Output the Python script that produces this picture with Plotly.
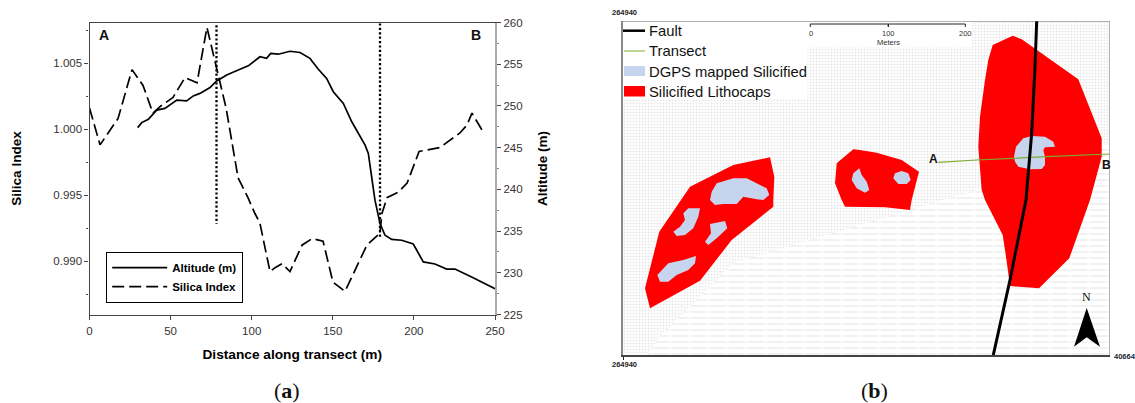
import plotly.graph_objects as go

W, H = 1135, 403

# ---------- Panel (a): transect profiles ----------
silica_dist = [0, 6.5, 17.6, 26.2, 33, 39.1, 43.5, 51.5, 58.9, 66.3, 72.4, 78.6, 84.2, 91.6, 97.7, 102, 105,
               111.3, 114.4, 118.7, 123.6, 131, 137.2, 144, 150.1, 157.5, 171, 179, 180.3, 183.4, 190.2, 195.8,
               203.2, 216, 228.4, 232.7, 235.8, 242.6]
silica_index = [1.0016, 0.9988, 1.0008, 1.0045, 1.0033, 1.0012, 1.0017, 1.0024, 1.0039, 1.0035, 1.0077, 1.0046,
                1.0016, 0.9963, 0.9948, 0.9936, 0.9929, 0.9892, 0.9895, 0.9898, 0.9892, 0.9912, 0.9917, 0.9915,
                0.9884, 0.9877, 0.9912, 0.9921, 0.9936, 0.9948, 0.9952, 0.9959, 0.9983, 0.9986, 0.9997, 1.0003,
                1.0012, 0.9998]
altitude_dist = [29.7, 32.2, 36.3, 41.4, 46.5, 53.8, 59.9, 64, 68.1, 74.3, 78.4, 84.6, 91.7, 97.9, 105.1, 109.2,
                 111.7, 116.4, 123.6, 129.8, 135.9, 141.1, 146.2, 150.3, 156.5, 161.7, 169.9, 171.9, 176, 179.1,
                 182.2, 186.3, 192.5, 199.6, 205.8, 213, 220.2, 225.3, 235.6, 242.8, 250]
altitude_m = [247.4, 248.0, 248.4, 249.5, 249.7, 250.7, 250.6, 251.2, 251.5, 252.2, 253, 253.7, 254.3, 254.8,
              255.9, 255.7, 256.3, 256.2, 256.55, 256.4, 255.7, 254.4, 253.3, 251.7, 250.3, 248.1, 245.3, 244.3,
              238.7, 235.9, 234.5, 234, 233.9, 233.45, 231.3, 231.05, 230.45, 230.45, 229.5, 228.8, 228.1]
boundary_a_x = [78.3, 78.3]
boundary_a_y = [1.0082, 0.9928]
boundary_b_x = [179.1, 179.1]
boundary_b_y = [1.0080, 0.9918]
dist_ticks = [0, 50, 100, 150, 200, 250]
si_ticks = [0.990, 0.995, 1.000, 1.005]
si_tick_labels = ["0.990", "0.995", "1.000", "1.005"]
alt_ticks = [225, 230, 235, 240, 245, 250, 255, 260]

# ---------- Panel (b): map, in map units from the lower-left corner ----------
map_width, map_height = 487, 334
stipple_x = [0, 487, 487, 349, 349, 184.5, 184.5, 0]
stipple_y = [0, 0, 334, 334, 308, 308, 256, 256]
hatch_x = [23.7, 40, 77, 110, 177, 237, 287, 330, 354, 487, 487]
hatch_y = [0, 22, 58, 92, 112, 130, 145, 158, 165, 212, 0]
lithocap_east_x = [369.7, 389.7, 398.7, 413.7, 455.3, 478.7, 478.7, 467, 446.3, 416, 387, 383, 379.7, 362, 358.7, 355.3, 357, 362, 365.3]
lithocap_east_y = [310, 319.3, 315.7, 305, 275.7, 216.7, 198.3, 155, 96.7, 66.7, 69, 98.3, 120, 155, 165, 208.3, 238.3, 275, 295]
lithocap_mid_x = [213.7, 230.3, 237, 253.7, 278.7, 296, 288.7, 287, 262, 222, 218.7, 212]
lithocap_mid_y = [191.7, 205.7, 205, 202.3, 195, 183.3, 155, 145, 147.7, 148.3, 155, 171.7]
lithocap_west_x = [147, 151.3, 150.3, 150.3, 108.7, 77, 27, 22, 36.3, 57, 67, 110.3]
lithocap_west_y = [197.7, 178.3, 155, 148.3, 115, 74.3, 46.7, 66.7, 123.3, 153.3, 168.3, 190]
silicified_polys = [
    ([391, 393, 400.3, 408.7, 422, 430.3, 432, 422, 420.3, 422, 422, 418.7, 407, 395.3, 392],
     [198.3, 208.3, 216.7, 219, 218.3, 213.3, 208.3, 207.7, 205, 198.3, 190, 186, 185.7, 188.3, 193.3]),
    ([236.3, 238.7, 243.7, 246.3, 242, 233.7, 228.7, 230.3],
     [186.7, 180, 173.3, 165, 162.3, 166.7, 175, 181.7]),
    ([270.3, 272, 278.7, 285.3, 287.7, 283.7, 275.3],
     [176.7, 181.7, 184, 181.7, 175, 171, 171]),
    ([88.7, 93.7, 110.3, 123.7, 143.7, 146.3, 140.3, 133.7, 120.3, 117, 113.7, 100.3, 92, 87],
     [163.3, 171.7, 176.7, 176.7, 166.7, 160, 155, 155.7, 158.3, 155, 151, 151, 150, 155]),
    ([65.3, 77, 75.3, 70.3, 62, 53.7, 50.3, 57, 62, 60.3],
     [146.7, 146.7, 138.3, 126.7, 120, 119, 123.3, 128.3, 135, 141.7]),
    ([87, 102, 104.3, 93.7, 85.3, 82, 88],
     [131, 134, 126.7, 116.7, 110, 113.3, 121.7]),
    ([34.3, 45.3, 60.3, 73, 72, 65.3, 53.7, 45.3, 37],
     [80, 91.7, 95, 99, 91.7, 85, 80, 73.3, 73.3]),
]
fault_x = [413.7, 412, 408.7, 405.3, 403, 387, 370.3]
fault_y = [334, 288.3, 222, 185, 155, 75, 0]
transect_x = [315.3, 353.7, 423.7, 486.7]
transect_y = [192.7, 195, 198.3, 201]
north_arrow_x = [463.7, 477, 463.7, 451]
north_arrow_y = [47, 8.3, 17.7, 8.3]
scale_x = [187.3, 187.3, 265.3, 265.3, 265.3, 342.3, 342.3]
scale_y = [328, 331, 331, 328, 331, 331, 328]
map_legend_labels = ["Fault", "Transect", "DGPS mapped Silicified", "Silicified Lithocaps"]

RED, BLUE, GREEN = "#ff0000", "#c6d4ee", "#7dab2f"
SANS = "Liberation Sans, Arial, sans-serif"
SERIF = "Liberation Serif, Times New Roman, serif"

fig = go.Figure()

# Panel (a)
fig.add_trace(go.Scatter(x=altitude_dist, y=altitude_m, name="Altitude (m)", mode="lines", yaxis="y2",
                         line=dict(color="#000", width=1.7), legend="legend"))
fig.add_trace(go.Scatter(x=silica_dist, y=silica_index, name="Silica Index", mode="lines",
                         line=dict(color="#000", width=1.7, dash="12px,5px"), legend="legend"))
for bx, by in ((boundary_a_x, boundary_a_y), (boundary_b_x, boundary_b_y)):
    fig.add_trace(go.Scatter(x=bx, y=by, mode="lines", showlegend=False, cliponaxis=False,
                             line=dict(color="#000", width=2.3, dash="2.2px,2.2px")))

# Panel (b)
def poly(x, y, color=None, **kw):
    fig.add_trace(go.Scatter(x=x, y=y, xaxis="x3", yaxis="y3", mode="lines", fill="toself", showlegend=False,
                             line=dict(width=0), fillcolor=color, hoverinfo="skip", **kw))

poly(stipple_x, stipple_y, "#ffffff",
     fillpattern=dict(shape=".", size=3, solidity=0.3, fgcolor="#cfcfcf", bgcolor="#ffffff"))
poly(hatch_x, hatch_y, "#ffffff",
     fillpattern=dict(shape="-", size=6, solidity=0.24, fgcolor="#d8d8d8", bgcolor="#ffffff"))
poly(hatch_x, hatch_y, "rgba(0,0,0,0)",
     fillpattern=dict(shape="|", size=19, solidity=0.22, fgcolor="#ffffff", bgcolor="rgba(0,0,0,0)"))
for px_, py_ in ((lithocap_west_x, lithocap_west_y), (lithocap_mid_x, lithocap_mid_y), (lithocap_east_x, lithocap_east_y)):
    poly(px_, py_, RED)
for px_, py_ in silicified_polys:
    poly(px_, py_, BLUE)
fig.add_trace(go.Scatter(x=transect_x, y=transect_y, xaxis="x3", yaxis="y3", mode="lines", showlegend=False,
                         line=dict(color=GREEN, width=1.2)))
fig.add_trace(go.Scatter(x=fault_x, y=fault_y, xaxis="x3", yaxis="y3", mode="lines", showlegend=False,
                         line=dict(color="#000", width=3), cliponaxis=False))
poly(north_arrow_x, north_arrow_y, "#000")
fig.add_trace(go.Scatter(x=scale_x, y=scale_y, xaxis="x3", yaxis="y3", mode="lines", showlegend=False,
                         line=dict(color="#222", width=1)))

ann = []
def text(x, y, s, size, xref="x3", yref="y3", color="#111", family=SANS, anchor="center", **kw):
    ann.append(dict(x=x, y=y, xref=xref, yref=yref, text=s, showarrow=False, xanchor=anchor, yanchor="middle",
                    font=dict(size=size, color=color, family=family), **kw))

# panel (a) texts
text(104 / W, 1 - 35 / H, "<b>A</b>", 14, "paper", "paper")
text(476 / W, 1 - 35 / H, "<b>B</b>", 14, "paper", "paper")
text(287 / W, 1 - 390 / H, "(<b>a</b>)", 22, "paper", "paper", family=SERIF)
text(874 / W, 1 - 390 / H, "(<b>b</b>)", 22, "paper", "paper", family=SERIF)

# panel (b) texts and hand-made legend
for lab, yy in zip(map_legend_labels, (324.3, 304, 283.3, 263)):
    text(23.5, yy, lab, 14.8, anchor="left")
text(310, 196, "<b>A</b>", 12)
text(483, 190, "<b>B</b>", 12)
text(463.7, 58, "N", 12, family=SERIF)
text(187.5, 321.5, "0", 7.5, color="#333")
text(265, 322, "100", 7.5, color="#333")
text(342, 322, "200", 7.5, color="#333")
text(265, 312.5, "Meters", 7.5, color="#333")
text(624 / W, 1 - 13 / H, "<b>264940</b>", 7.5, "paper", "paper", color="#222")
text(624 / W, 1 - 364 / H, "<b>264940</b>", 7.5, "paper", "paper", color="#222")
text(1124.5 / W, 1 - 356 / H, "<b>40664</b>", 7.5, "paper", "paper", color="#223")

shapes = [
    dict(type="line", xref="x3", yref="y3", x0=0, x1=487, y0=334, y1=334, line=dict(color="#666", width=1.2)),
    dict(type="line", xref="x3", yref="y3", x0=487, x1=487, y0=0, y1=334, line=dict(color="#999", width=1.5)),
    dict(type="line", xref="x3", yref="y3", x0=0, x1=22, y0=324.3, y1=324.3, line=dict(color="#000", width=2.5)),
    dict(type="line", xref="x3", yref="y3", x0=1, x1=22, y0=304, y1=304, line=dict(color=GREEN, width=1)),
    dict(type="rect", xref="x3", yref="y3", x0=1, x1=22, y0=279, y1=289, fillcolor=BLUE, line=dict(width=0)),
    dict(type="rect", xref="x3", yref="y3", x0=1, x1=22, y0=258.5, y1=269, fillcolor=RED, line=dict(width=0)),
]

tickfont = dict(family=SANS, size=11.5, color="#333")
titlefont = dict(family=SANS, size=13.5, color="#000")

fig.update_layout(
    width=W, height=H, margin=dict(l=0, r=0, t=0, b=0, autoexpand=False), autosize=False,
    paper_bgcolor="white", plot_bgcolor="rgba(0,0,0,0)",
    annotations=ann, shapes=shapes, showlegend=True,
    legend=dict(x=106 / W, y=1 - 252 / H, xanchor="left", yanchor="top", bgcolor="white", bordercolor="#000",
                borderwidth=1.2, itemwidth=55, entrywidth=84, entrywidthmode="pixels",
                font=dict(family=SANS, size=11.5, color="#000", weight="bold"), traceorder="normal"),
    xaxis=dict(domain=[89.5 / W, 495 / W], range=[0, 250], tickvals=dist_ticks, ticks="outside", ticklen=4,
               tickcolor="#444", showline=True, linecolor="#444", linewidth=1.2, mirror=True, showgrid=False,
               zeroline=False, tickfont=tickfont, ticklabelstandoff=2,
               title=dict(text="<b>Distance along transect (m)</b>", font=dict(family=SANS, size=13.7, color="#000"),
                          standoff=13),
               anchor="y"),
    yaxis=dict(domain=[1 - 314.5 / H, 1 - 22.5 / H], range=[0.98595, 1.00807], tickvals=si_ticks,
               ticktext=si_tick_labels, ticks="outside", ticklen=4, tickcolor="#444", showline=True,
               linecolor="#444", linewidth=1.2, showgrid=False, zeroline=False, tickfont=tickfont,
               minor=dict(tick0=0.9875, dtick=0.0025, ticks="outside", ticklen=2, tickcolor="#444"),
               title=dict(text="<b>Silica Index</b>", font=titlefont, standoff=28), anchor="x"),
    yaxis2=dict(domain=[1 - 314.5 / H, 1 - 22.5 / H], range=[225, 260], tickvals=alt_ticks, ticks="outside",
                ticklen=4, tickcolor="#444", overlaying="y", side="right", showline=True, linecolor="#aaaaaa",
                linewidth=2.2, showgrid=False, zeroline=False, tickfont=tickfont,
                minor=dict(tick0=227.5, dtick=5, ticks="outside", ticklen=2, tickcolor="#888"),
                title=dict(text="<b>Altitude (m)</b>", font=titlefont, standoff=16), anchor="x"),
    xaxis3=dict(domain=[623 / W, 1110 / W], range=[0, map_width], showgrid=False, zeroline=False, showline=True,
                linecolor="#444", linewidth=1.5, tickvals=[0], ticktext=[""], ticks="outside", ticklen=3,
                tickcolor="#222", anchor="y3"),
    yaxis3=dict(domain=[1 - 355 / H, 1 - 21 / H], range=[0, map_height], showgrid=False, zeroline=False,
                showline=True, linecolor="#888", linewidth=2, tickvals=[], anchor="x3"),
)

fig.write_html("out.html", config={"displayModeBar": False},
               post_script="document.body.style.margin='0';document.body.style.overflow='hidden';")
